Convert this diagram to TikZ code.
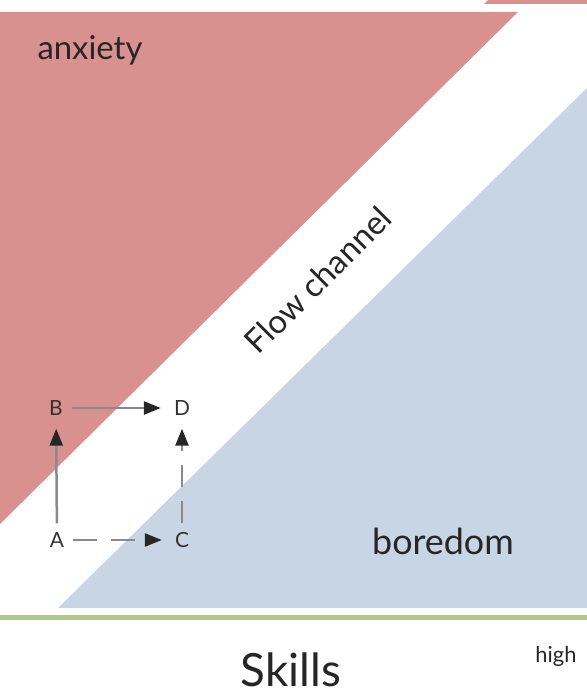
\documentclass[tikz,border=0pt]{standalone}
\usepackage{fontspec}
\setmainfont{Lato}
\usetikzlibrary{arrows.meta}
\definecolor{anxred}{HTML}{D9918F}
\definecolor{borblue}{HTML}{C8D5E4}
\definecolor{axisgreen}{HTML}{B3C78B}
\definecolor{arrgray}{HTML}{8A8A8A}
\tikzset{
  pt/.style={font=\fontsize{21}{24}\selectfont, text=black!80, inner sep=0pt},
  move/.style={arrgray, line width=2.5bp, shorten <=9bp, shorten >=13bp,
    -{Triangle[length=17bp,width=13bp,color=black!85]}},
  region/.style={text=black!85, inner sep=1bp}
}

\begin{document}
\begin{tikzpicture}[x=1bp,y=-1bp]
\useasboundingbox (0,0) rectangle (587,695);
% zones
\fill[anxred] (0,12) -- (518,12) -- (0,524) -- cycle;
\fill[anxred] (484,4) -- (488,0) -- (587,0) -- (587,4) -- cycle;
\fill[borblue] (587,88) -- (587,608) -- (58,608) -- cycle;
\draw[axisgreen, line width=5bp] (0,617) -- (587,617);
% zone labels
\node[region, font=\fontsize{33}{36}\selectfont] (anx) at (90,50) {anxiety};
\node[region, font=\fontsize{33}{36}\selectfont, rotate=45] (flow) at (318,280) {Flow channel};
\node[region, font=\fontsize{36}{40}\selectfont] (bor) at (443,541) {boredom};
\node[region, font=\fontsize{46}{50}\selectfont] (skl) at (291,670) {Skills};
\node[region, font=\fontsize{22}{24}\selectfont] (hi) at (556,656) {high};
% points
\node[pt] (A) at (57,540) {A};
\node[pt] (B) at (56,408) {B};
\node[pt] (C) at (182,540) {C};
\node[pt] (D) at (182,408) {D};
\draw[move] (A) -- (B);
\draw[move] (B) -- (D);
\draw[move, dash pattern=on 24bp off 14bp] (A) -- (C);
\draw[move, dash pattern=on 22bp off 14bp] (C) -- (D);
\end{tikzpicture}
\end{document}
